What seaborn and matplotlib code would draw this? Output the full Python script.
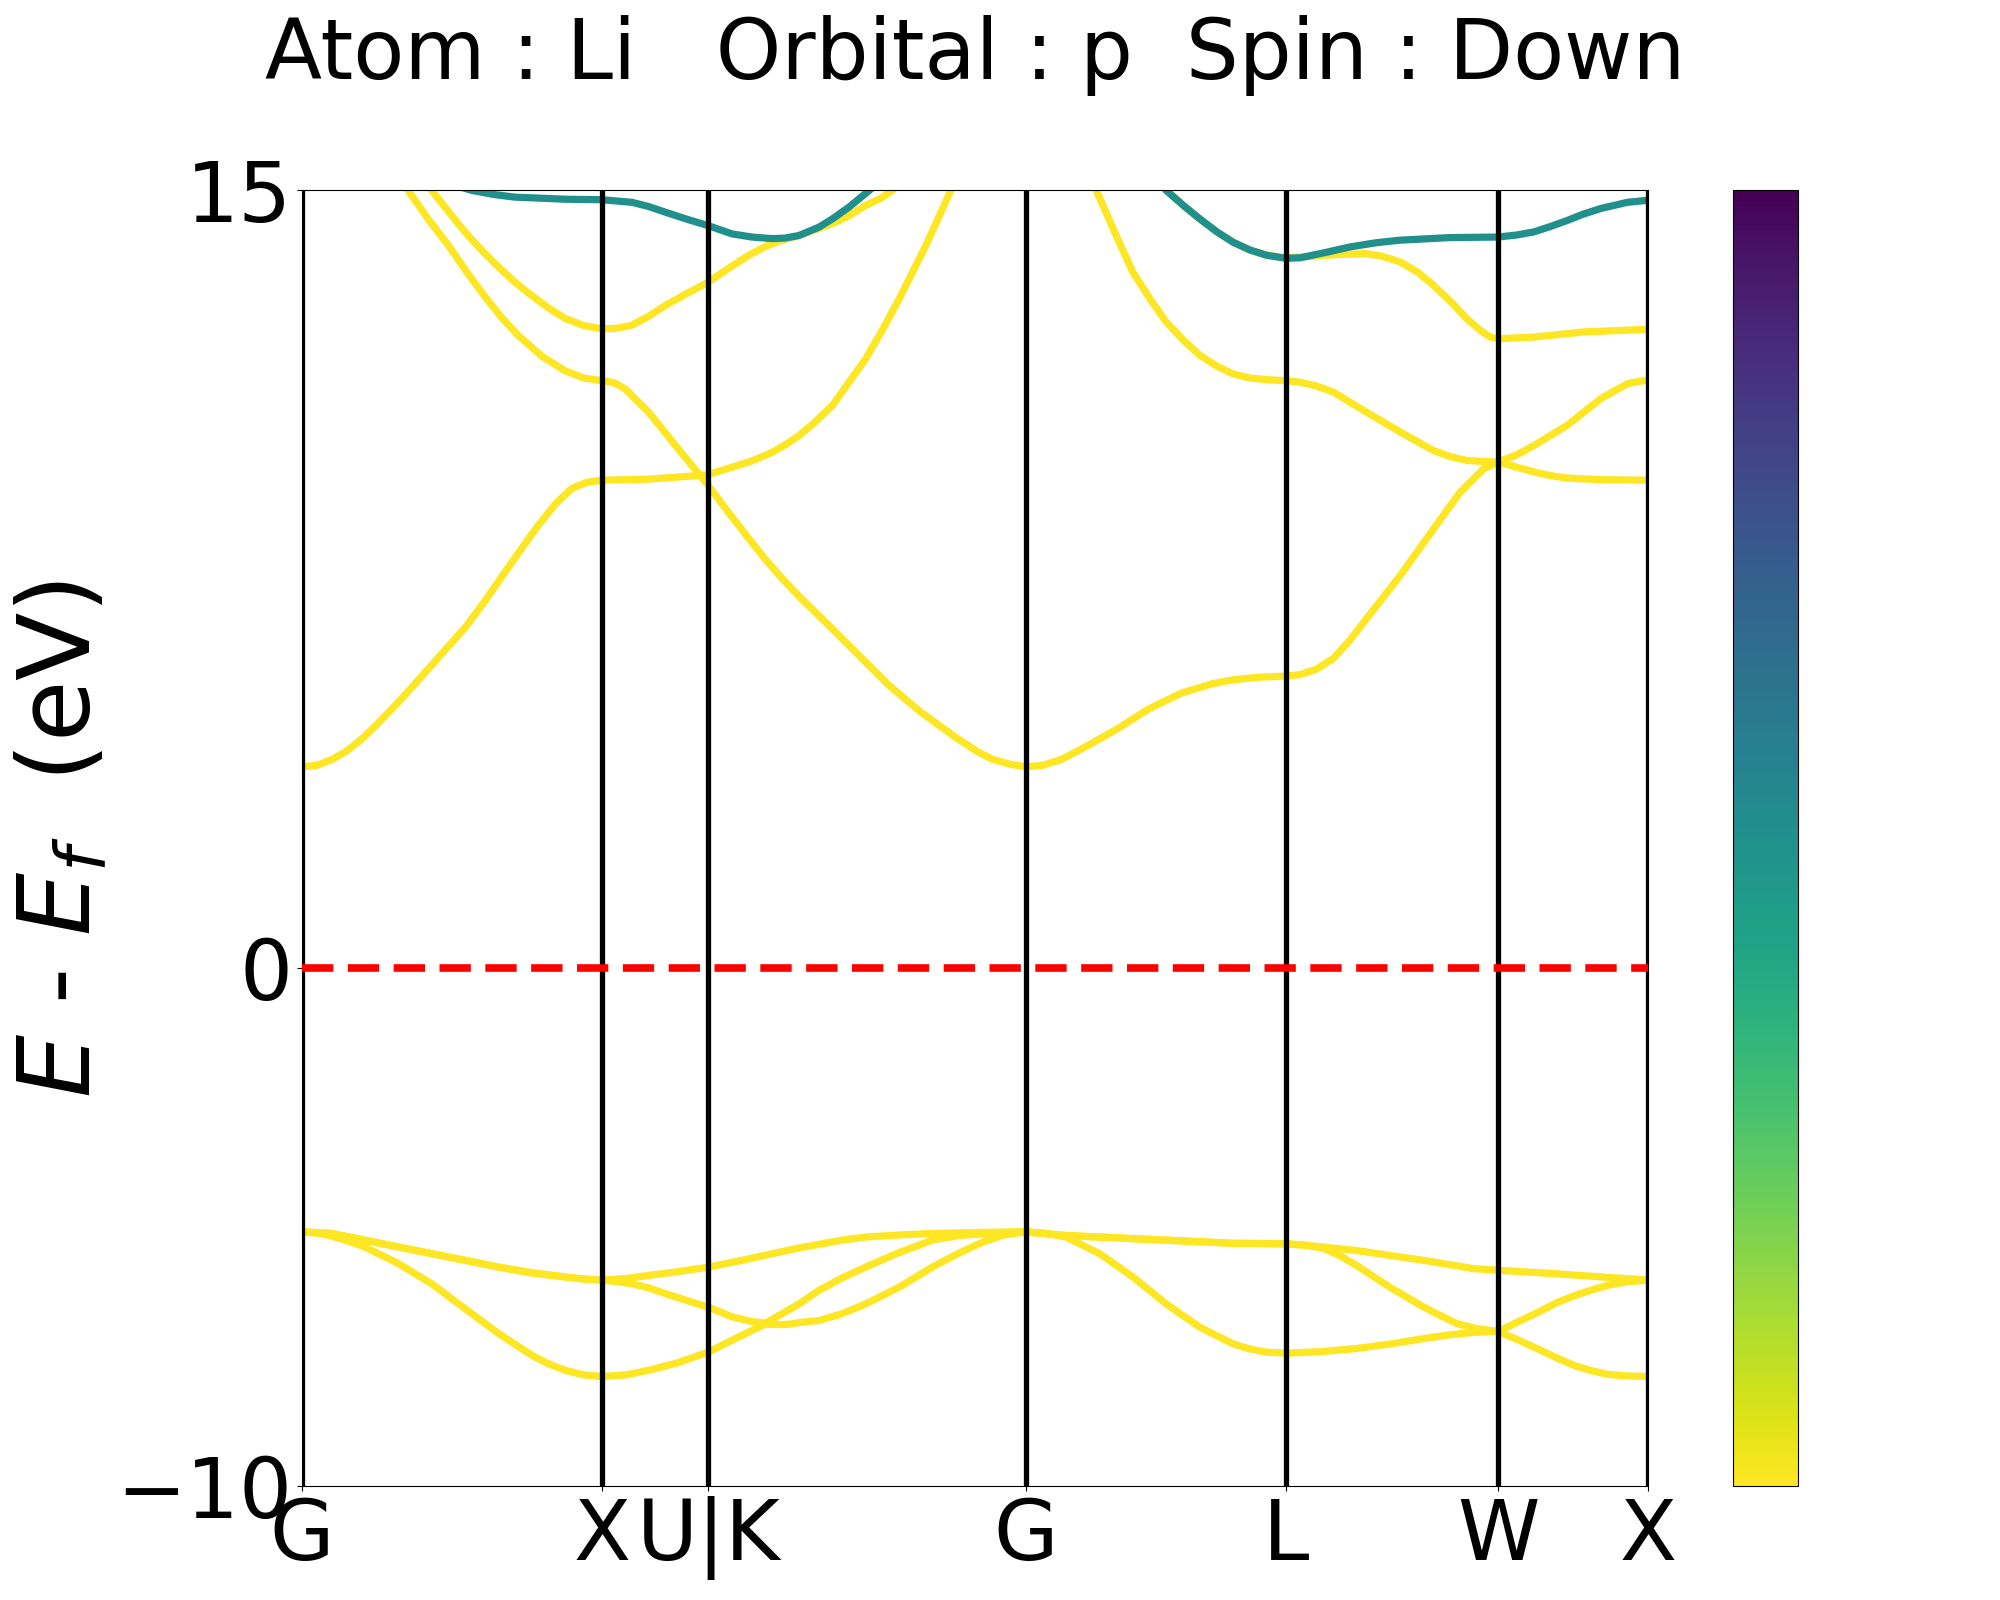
import numpy as np
import pandas as pd
import seaborn as sns
import matplotlib
matplotlib.use("Agg")
import matplotlib.pyplot as plt
from matplotlib.colors import Normalize
from matplotlib.cm import ScalarMappable

# k-path (G-X-U|K-G-L-W-X), distances along the path
kticks = [0.0, 1.0, 1.354, 2.414, 3.280, 3.987, 4.487]
klabels = ["G", "X", "U|K", "G", "L", "W", "X"]

# --- valence bands ---
k_v1 = [0.0, 0.05, 0.097, 0.15, 0.209, 0.321, 0.432, 0.543, 0.655, 0.766, 0.82, 0.877, 0.94, 1.0,
        1.078, 1.156, 1.25, 1.354, 1.434, 1.49, 1.545, 1.59, 1.626, 1.657, 1.723, 1.80, 1.879,
        1.99, 2.101, 2.19, 2.268, 2.34, 2.414,
        2.48, 2.547, 2.659, 2.770, 2.881, 2.993, 3.104, 3.16, 3.215, 3.280,
        3.40, 3.516, 3.63, 3.739, 3.82, 3.906, 3.987,
        4.06, 4.131, 4.19, 4.242, 4.30, 4.354, 4.42, 4.487]
e_v1 = [-5.09, -5.11, -5.17, -5.26, -5.38, -5.70, -6.09, -6.57, -7.05, -7.47, -7.63, -7.76, -7.85, -7.88,
        -7.85, -7.76, -7.62, -7.41, -7.18, -7.02, -6.87, -6.88, -6.87, -6.84, -6.80, -6.67, -6.48,
        -6.16, -5.77, -5.50, -5.29, -5.15, -5.09,
        -5.12, -5.19, -5.51, -5.96, -6.48, -6.93, -7.25, -7.35, -7.41, -7.43,
        -7.40, -7.34, -7.25, -7.15, -7.08, -7.03, -7.01,
        -7.19, -7.38, -7.54, -7.67, -7.77, -7.84, -7.87, -7.88]

k_v2 = [0.0, 0.097, 0.209, 0.32, 0.432, 0.545, 0.655, 0.766, 0.877, 0.94, 1.0,
        1.05, 1.100, 1.155, 1.211, 1.28, 1.354, 1.434, 1.50, 1.545, 1.60, 1.657, 1.723,
        1.80, 1.879, 1.99, 2.101, 2.19, 2.268, 2.34, 2.414,
        2.547, 2.881, 3.104, 3.280, 3.34, 3.405, 3.46, 3.516, 3.627, 3.739, 3.80, 3.850,
        3.92, 3.987, 4.06, 4.131, 4.185, 4.242, 4.30, 4.354, 4.42, 4.487]
e_v2 = [-5.09, -5.12, -5.25, -5.38, -5.51, -5.64, -5.77, -5.88, -5.96, -6.00, -6.02,
        -6.05, -6.09, -6.17, -6.28, -6.41, -6.54, -6.73, -6.82, -6.85, -6.67, -6.48, -6.22,
        -5.98, -5.77, -5.49, -5.25, -5.16, -5.13, -5.10, -5.09,
        -5.16, -5.25, -5.31, -5.32, -5.34, -5.41, -5.55, -5.74, -6.16, -6.54, -6.72, -6.86,
        -6.96, -7.01, -6.81, -6.61, -6.45, -6.32, -6.21, -6.12, -6.05, -6.02]

k_v3 = [0.0, 0.097, 0.209, 0.32, 0.432, 0.545, 0.655, 0.766, 0.877, 0.94, 1.0,
        1.078, 1.156, 1.25, 1.354, 1.45, 1.545, 1.657, 1.723, 1.80, 1.879, 1.99, 2.101,
        2.268, 2.414, 2.547, 2.881, 3.104, 3.280, 3.40, 3.516, 3.739, 3.906, 3.987,
        4.185, 4.408, 4.487]
e_v3 = [-5.09, -5.12, -5.25, -5.38, -5.51, -5.64, -5.77, -5.88, -5.96, -6.00, -6.02,
        -5.99, -5.93, -5.86, -5.77, -5.66, -5.54, -5.40, -5.33, -5.25, -5.19, -5.15, -5.12,
        -5.10, -5.09, -5.16, -5.25, -5.31, -5.32, -5.38, -5.45, -5.64, -5.80, -5.83,
        -5.90, -5.99, -6.02]

# --- conduction bands ---
k_ca = [0.0, 0.05, 0.1, 0.15, 0.2, 0.25, 0.3, 0.35, 0.41, 0.475, 0.543, 0.61, 0.677, 0.733,
        0.788, 0.845, 0.899, 0.95, 1.0, 1.156, 1.323, 1.354, 1.434, 1.50, 1.568, 1.61,
        1.657, 1.71, 1.768, 1.82, 1.879, 1.935, 1.991, 2.035, 2.080, 2.12, 2.163, 2.2]
e_ca = [3.88, 3.91, 4.02, 4.19, 4.42, 4.70, 5.00, 5.31, 5.70, 6.12, 6.56, 7.08, 7.64, 8.10,
        8.54, 8.95, 9.25, 9.37, 9.41, 9.43, 9.50, 9.52, 9.66, 9.78, 9.95, 10.09,
        10.27, 10.53, 10.85, 11.27, 11.75, 12.31, 12.91, 13.42, 13.94, 14.45, 15.0, 15.5]

k_cb = [0.30, 0.354, 0.42, 0.488, 0.55, 0.610, 0.665, 0.721, 0.80, 0.877, 0.94, 1.0,
        1.04, 1.078, 1.156, 1.245, 1.354, 1.42, 1.490, 1.545, 1.601, 1.657, 1.768, 1.879,
        1.957, 2.06, 2.179, 2.25, 2.30, 2.36, 2.414,
        2.47, 2.53, 2.607, 2.72, 2.820, 2.93, 3.032, 3.104, 3.19, 3.280,
        3.327, 3.38, 3.438, 3.49, 3.549, 3.661, 3.772, 3.861, 3.939, 3.987,
        4.05, 4.107, 4.218, 4.329, 4.418, 4.46, 4.487]
e_cb = [15.4, 15.0, 14.45, 13.94, 13.42, 12.95, 12.55, 12.2, 11.8, 11.52, 11.38, 11.33,
        11.29, 11.17, 10.72, 10.08, 9.31, 8.80, 8.28, 7.88, 7.51, 7.17, 6.54, 5.90,
        5.45, 4.95, 4.45, 4.18, 4.03, 3.93, 3.88,
        3.91, 4.02, 4.25, 4.62, 4.99, 5.30, 5.48, 5.56, 5.61, 5.63,
        5.66, 5.76, 5.97, 6.30, 6.74, 7.57, 8.47, 9.18, 9.63, 9.76,
        9.90, 10.08, 10.47, 10.98, 11.27, 11.32, 11.33]

k_cc = [2.60, 2.648, 2.714, 2.770, 2.83, 2.881, 2.94, 2.993, 3.05, 3.104, 3.16, 3.215, 3.280,
        3.327, 3.38, 3.438, 3.549, 3.661, 3.772, 3.83, 3.884, 3.94, 3.987,
        4.05, 4.107, 4.16, 4.218, 4.329, 4.487]
e_cc = [15.7, 15.0, 14.13, 13.42, 12.88, 12.46, 12.10, 11.82, 11.61, 11.46, 11.38, 11.35, 11.33,
        11.30, 11.23, 11.11, 10.72, 10.34, 9.98, 9.86, 9.79, 9.77, 9.76,
        9.66, 9.57, 9.50, 9.45, 9.42, 9.41]

k_cd = [0.38, 0.432, 0.49, 0.543, 0.60, 0.655, 0.71, 0.766, 0.82, 0.877, 0.94, 1.0,
        1.05, 1.100, 1.155, 1.211, 1.28, 1.354, 1.42, 1.490, 1.545, 1.601, 1.657, 1.71,
        1.768, 1.82, 1.879, 1.93, 1.968, 2.05]
e_cd = [15.37, 15.0, 14.58, 14.20, 13.84, 13.52, 13.23, 12.97, 12.74, 12.53, 12.39, 12.33,
        12.34, 12.40, 12.57, 12.78, 13.0, 13.23, 13.49, 13.75, 13.92, 14.04, 14.13, 14.24,
        14.36, 14.50, 14.71, 14.85, 15.0, 15.5]

k_ce = [2.80, 2.881, 2.94, 2.993, 3.05, 3.104, 3.16, 3.215, 3.280, 3.327, 3.44, 3.549,
        3.60, 3.661, 3.72, 3.772, 3.83, 3.884, 3.93, 3.961, 3.987, 4.107, 4.273, 4.487]
e_ce = [15.6, 15.0, 14.70, 14.45, 14.20, 14.00, 13.85, 13.75, 13.70, 13.71, 13.76, 13.78,
        13.73, 13.62, 13.42, 13.17, 12.85, 12.52, 12.29, 12.17, 12.14, 12.17, 12.27, 12.32]

# teal (projected) bands
k_t1 = [0.45, 0.566, 0.64, 0.710, 0.877, 1.0, 1.100, 1.155, 1.211, 1.28, 1.354, 1.434,
        1.50, 1.568, 1.61, 1.657, 1.723, 1.768, 1.824, 1.891, 1.95]
e_t1 = [15.2, 15.0, 14.92, 14.87, 14.83, 14.82, 14.77, 14.69, 14.58, 14.45, 14.32, 14.16,
        14.10, 14.07, 14.08, 14.13, 14.29, 14.45, 14.68, 15.0, 15.3]

k_t2 = [2.80, 2.881, 2.94, 2.993, 3.05, 3.104, 3.16, 3.215, 3.280, 3.327, 3.41, 3.494,
        3.58, 3.661, 3.828, 3.987, 4.05, 4.107, 4.16, 4.218, 4.27, 4.329, 4.418, 4.487]
e_t2 = [15.6, 15.0, 14.70, 14.45, 14.20, 14.00, 13.85, 13.75, 13.69, 13.70, 13.80, 13.91,
        13.99, 14.04, 14.09, 14.10, 14.14, 14.20, 14.30, 14.42, 14.54, 14.65, 14.77, 14.81]

band_k = [k_v1, k_v2, k_v3, k_ca, k_cb, k_cc, k_cd, k_ce, k_t1, k_t2]
band_e = [e_v1, e_v2, e_v3, e_ca, e_cb, e_cc, e_cd, e_ce, e_t1, e_t2]
band_w = [0.0, 0.0, 0.0, 0.0, 0.0, 0.0, 0.0, 0.0, 0.5, 0.5]

rows = []
for i, (ks, es, w) in enumerate(zip(band_k, band_e, band_w)):
    for k, e in zip(ks, es):
        rows.append({"k": k, "E": e, "band": i, "weight": w})
df = pd.DataFrame(rows)

fig = plt.figure(figsize=(20, 16), dpi=100)
ax = fig.add_axes([0.151, 0.071, 0.673, 0.81])
cax = fig.add_axes([0.8665, 0.071, 0.0325, 0.81])

sns.lineplot(data=df, x="k", y="E", units="band", estimator=None, hue="weight",
             palette="viridis_r", hue_norm=(0, 1), linewidth=5.2, legend=False, ax=ax)
for line in ax.get_lines():
    line.set_solid_joinstyle("round")

for kt in kticks:
    ax.axvline(kt, color="black", lw=3.8, zorder=3)
ax.axhline(0, color="red", lw=5.5, ls=(0, (4.1, 1.9)), zorder=4)

ax.set_xlim(kticks[0], kticks[-1])
ax.set_ylim(-10, 15)
ax.set_xticks(kticks)
ax.set_xticklabels(klabels)
ax.set_yticks([-10, 0, 15])
ax.tick_params(labelsize=60)
ax.set_xlabel("")
ax.set_ylabel("$E$ - $E_f$  (eV)", fontsize=72)
ax.set_title("Atom : Li   Orbital : p  Spin : Down", fontsize=60, pad=80)

sm = ScalarMappable(norm=Normalize(0, 1), cmap="viridis_r")
cbar = fig.colorbar(sm, cax=cax)
cbar.set_ticks([])

fig.savefig("out.png", dpi=100)
